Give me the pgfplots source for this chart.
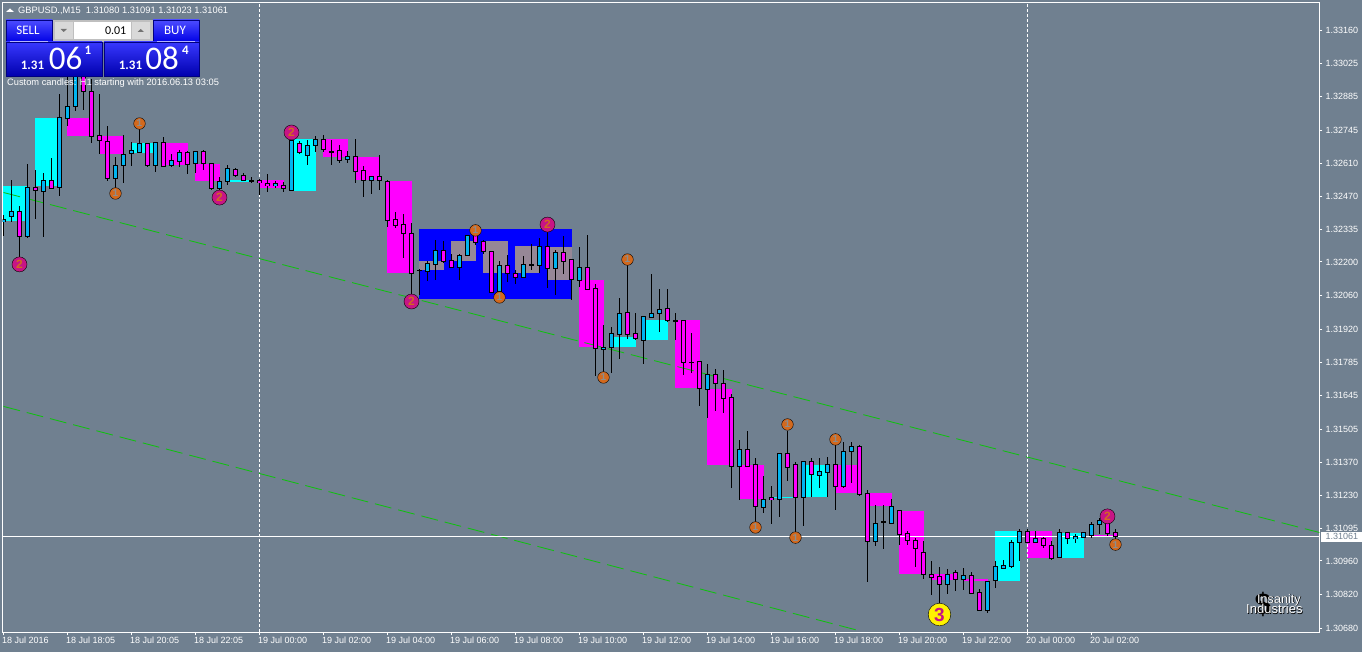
\documentclass[border=0pt]{standalone}
\usepackage{fontspec}
\setmainfont{Liberation Sans}
\newfontfamily\panelfont{Carlito}
\usepackage{pgfplots}
\usepackage{pgfplotstable}
\pgfplotsset{compat=1.18}
\definecolor{bg}{HTML}{708090}
\definecolor{bullc}{HTML}{00B4F0}
\definecolor{bearc}{HTML}{FF00FF}
\definecolor{blockc}{HTML}{00FFFF}
\definecolor{grayb}{HTML}{968796}
\definecolor{chan}{HTML}{10C010}
\definecolor{sigA}{HTML}{C71585}
\definecolor{sigB}{HTML}{D2691E}
\definecolor{digitg}{HTML}{8C8C8C}
% prices are in points (1e-5) above 1.30000
\pgfplotstableread{
i o h l c
0 2366 2393 2306 2376
1 2390 2538 2365 2411
3 2307 2607 2299 2510
5 2491 2568 2303 2539
7 2507 2898 2473 2798
8 2793 2965 2762 2846
9 2846 3010 2828 2994
14 2547 2637 2503 2599
15 2599 2727 2527 2644
16 2648 2699 2596 2661
17 2654 2759 2654 2690
19 2601 2697 2575 2694
21 2599 2648 2597 2619
22 2618 2665 2593 2655
24 2607 2662 2570 2657
27 2506 2551 2496 2532
28 2532 2604 2521 2586
31 2536 2554 2527 2538
34 2516 2534 2506 2524
36 2495 2731 2495 2704
38 2640 2704 2600 2681
39 2681 2724 2655 2706
41 2657 2704 2604 2659
43 2626 2662 2610 2637
46 2539 2556 2481 2556
52 2164 2169 2065 2166
53 2162 2202 2123 2192
54 2191 2292 2127 2246
57 2178 2234 2127 2225
58 2228 2308 2225 2308
62 2079 2202 2040 2184
65 2137 2223 2136 2188
66 2186 2275 2167 2188
67 2187 2300 2155 2265
69 2174 2250 2061 2238
72 2124 2264 2098 2176
75 1836 1937 1736 1847
76 1845 1932 1739 1902
77 1901 2050 1796 1985
80 1876 1972 1775 1972
81 1971 2148 1971 1985
82 1988 2089 1909 2002
84 1956 1990 1878 1958
86 1783 1907 1739 1785
88 1672 1775 1551 1735
92 1353 1462 1214 1421
95 1183 1314 1158 1216
97 1214 1408 1142 1404
100 1225 1374 1104 1374
102 1316 1388 1263 1330
103 1328 1393 1225 1359
105 1270 1454 1262 1413
106 1415 1454 1283 1433
109 1042 1194 1024 1114
110 1120 1194 1009 1122
111 1117 1215 1117 1185
118 861 927 821 905
120 885 929 838 898
123 753 876 744 876
124 878 958 847 936
125 930 962 925 940
126 937 1045 935 1036
127 1036 1094 960 1084
129 1038 1083 1036 1052
132 973 1094 973 1077
134 1052 1070 1034 1060
135 1059 1080 1056 1077
136 1065 1121 1055 1110
137 1110 1139 1070 1127
}\bulltable
\pgfplotstableread{
i o h l c
2 2408 2434 2220 2307
4 2510 2583 2379 2495
6 2539 2633 2503 2503
10 2994 3035 2832 2908
11 2908 2959 2692 2722
12 2723 2897 2646 2702
13 2698 2762 2535 2547
18 2690 2690 2593 2601
20 2694 2720 2597 2597
23 2655 2662 2563 2603
25 2657 2665 2582 2607
26 2607 2610 2500 2506
29 2582 2590 2554 2557
30 2560 2568 2534 2536
32 2536 2545 2476 2528
33 2524 2563 2489 2516
35 2518 2531 2489 2503
37 2692 2701 2648 2652
40 2706 2727 2655 2665
42 2662 2683 2611 2621
44 2637 2710 2527 2576
45 2578 2596 2469 2539
47 2553 2645 2500 2536
48 2534 2540 2344 2373
49 2375 2409 2339 2353
50 2354 2400 2216 2317
51 2317 2362 2047 2153
55 2246 2285 2195 2203
56 2205 2234 2176 2178
59 2308 2330 2272 2282
60 2283 2289 2231 2245
61 2242 2242 2072 2075
63 2184 2227 2116 2153
64 2153 2167 2107 2137
68 2263 2330 2091 2174
70 2238 2308 2151 2203
71 2209 2213 2044 2126
73 2176 2310 2082 2086
74 2089 2109 1725 1843
78 1989 2192 1881 1901
79 1902 1990 1877 1884
83 2006 2089 1950 1957
85 1956 1956 1730 1783
87 1786 1786 1601 1676
89 1735 1757 1584 1695
90 1695 1750 1573 1635
91 1636 1653 1262 1353
93 1421 1497 1353 1353
94 1359 1388 1086 1187
96 1222 1269 1114 1214
98 1404 1501 1291 1349
99 1359 1371 1059 1225
101 1374 1388 1227 1317
104 1359 1460 1172 1270
107 1433 1442 1229 1237
108 1238 1255 872 1042
112 1168 1168 1028 1071
113 1073 1086 1028 1046
114 1044 1056 934 1013
115 994 1042 885 905
116 905 958 818 893
117 894 933 782 861
119 911 921 835 885
121 898 916 821 827
122 828 845 753 753
128 1084 1094 1036 1038
130 1052 1059 1013 1023
131 1023 1041 965 972
133 1077 1080 1029 1052
138 1121 1170 1062 1074
139 1080 1091 1023 1061
}\beartable
% hourly custom candles: centre index, low, high
\pgfplotstableread{
x lo hi
1.5 2368 2513
5.5 2513 2799
17.5 2650 2695
29.5 2534 2538
37.5 2496 2708
77.5 1849 1887
81.5 1878 1961
97.5 1221 1227
101.5 1227 1360
125.5 879 1086
133.5 974 1078
}\cyanblocks
\pgfplotstableread{
x lo hi
9.5 2724 2795
13.5 2646 2724
21.5 2604 2695
25.5 2534 2608
33.5 2505 2538
41.5 2637 2708
45.5 2538 2637
49.5 2156 2534
73.5 1849 2127
85.5 1679 1961
89.5 1356 1675
93.5 1219 1356
105.5 1240 1360
109.5 1186 1240
113.5 908 1169
117.5 883 908
121.5 879 887
129.5 974 1086
137.5 1062 1066
}\magentablocks
\pgfplotstableread{
x lo hi
53.5 2165 2206
57.5 2206 2285
61.5 2156 2285
65.5 2156 2268
69.5 2127 2264
}\grayblocks
\pgfplotstableread{
x lo hi
61.5 2048 2335
}\blueblock
\newcommand{\blocks}[3]{%
  \addplot[draw=none,no marks,forget plot,error bars/.cd,y dir=both,y explicit,error mark=none,
    error bar style={#2,line width=#3pt}]
    table[x=x,y expr=(\thisrow{lo}+\thisrow{hi})/2,y error expr=(\thisrow{hi}-\thisrow{lo})/2]{#1};}
\newcommand{\candles}[2]{%
  \addplot[draw=none,no marks,forget plot,error bars/.cd,y dir=both,y explicit,error mark=none,
    error bar style={black,line width=1pt}]
    table[x=i,y=o,y error plus expr=\thisrow{h}-\thisrow{o},y error minus expr=\thisrow{o}-\thisrow{l}]{#1};
  \addplot[draw=none,no marks,forget plot,error bars/.cd,y dir=both,y explicit,error mark=none,
    error bar style={black,line width=5pt}]
    table[x=i,y expr=(\thisrow{o}+\thisrow{c})/2,y error expr=abs(\thisrow{c}-\thisrow{o})/2+2]{#1};
  \addplot[draw=none,no marks,forget plot,error bars/.cd,y dir=both,y explicit,error mark=none,
    error bar style={#2,line width=3pt}]
    table[x=i,y expr=(\thisrow{o}+\thisrow{c})/2,y error expr={max(abs(\thisrow{c}-\thisrow{o})/2-2,0)}]{#1};}
\begin{document}
\begin{tikzpicture}[x=1pt,y=1pt]
\fill[bg] (0,0) rectangle (1362,652);
\useasboundingbox (0,0) rectangle (1362,652);
\begin{axis}[
  at={(2.5pt,19.5pt)},anchor=south west,scale only axis,
  width=1317pt,height=630pt,
  xmin=-0.125,xmax=164.5,ymin=663.4,ymax=3276,
  axis line style={white,line width=1pt},
  tick style={white,line width=1pt},
  tick align=outside,major tick length=3pt,
  xtick pos=bottom,ytick pos=right,yticklabel pos=right,
  xtick={0,8,...,136},
  xticklabels={18 Jul 2016,18 Jul 18:05,18 Jul 20:05,18 Jul 22:05,19 Jul 00:00,19 Jul 02:00,19 Jul 04:00,19 Jul 06:00,19 Jul 08:00,19 Jul 10:00,19 Jul 12:00,19 Jul 14:00,19 Jul 16:00,19 Jul 18:00,19 Jul 20:00,19 Jul 22:00,20 Jul 00:00,20 Jul 02:00},
  xticklabel style={anchor=north west,inner sep=0pt,xshift=-1.5pt,yshift=-1.5pt,text=white,font=\fontsize{9}{10}\selectfont},
  ytick={3160,3025,2885,2745,2610,2470,2335,2200,2060,1920,1785,1645,1505,1370,1230,1095,960,820,680},
  yticklabels={1.33160,1.33025,1.32885,1.32745,1.32610,1.32470,1.32335,1.32200,1.32060,1.31920,1.31785,1.31645,1.31505,1.31370,1.31230,1.31095,1.30960,1.30820,1.30680},
  yticklabel style={anchor=west,inner sep=0pt,xshift=3pt,text=white,font=\fontsize{9}{10}\selectfont},
]
\blocks{\blueblock}{blue}{153}
\blocks{\cyanblocks}{blockc}{25}
\blocks{\magentablocks}{bearc}{25}
\blocks{\grayblocks}{grayb}{25}
% regression channel
\addplot[chan,line width=0.85pt,dash pattern=on 17pt off 7pt,forget plot] coordinates {(0,2488) (164.5,1078)};
\addplot[chan,line width=0.85pt,dash pattern=on 17pt off 7pt,forget plot] coordinates {(0,1601) (107.3,668)};
% day separators and current price
\addplot[white,line width=1pt,dash pattern=on 3pt off 2pt,forget plot] coordinates {(32,663.4) (32,3276)};
\addplot[white,line width=1pt,dash pattern=on 3pt off 2pt,forget plot] coordinates {(128,663.4) (128,3276)};
\addplot[white,line width=1pt,forget plot] coordinates {(-0.125,1061) (164.5,1061)};
% signal points
\addplot[only marks,mark=*,mark size=7.5pt,mark options={fill=sigA,draw=none},forget plot,
  nodes near coords={2},nodes near coords style={anchor=center,inner sep=0pt,text=sigB,font=\bfseries\fontsize{12}{13}\selectfont}]
  coordinates {(2,2190) (36,2737) (27,2467) (51,2036) (68,2355) (138,1145)};
\addplot[only marks,mark=*,mark size=5.8pt,mark options={fill=sigB,draw=none},forget plot,
  nodes near coords={1},nodes near coords style={anchor=center,inner sep=0pt,text=digitg,font=\bfseries\fontsize{10}{11}\selectfont}]
  coordinates {(17,2774) (14,2484) (59,2331) (62,2053) (75,1721) (78,2210) (94,1099) (98,1526) (99,1057) (104,1464) (139,1028)};
\addplot[only marks,mark=*,mark size=11.3pt,mark options={fill=yellow,draw=none},forget plot,
  nodes near coords={3},nodes near coords style={anchor=center,inner sep=0pt,text=sigA,font=\bfseries\fontsize{19}{20}\selectfont}]
  coordinates {(117,738)};
\candles{\bulltable}{bullc}
\candles{\beartable}{bearc}
\end{axis}
% trade panel and annotations, in image coordinates
\begin{scope}[shift={(0,652)},y=-1pt,x=1pt]
\fill[white] (6,12) -- (14,12) -- (10,8.5) -- cycle;
\node[anchor=west,inner sep=0pt,text=white,font=\fontsize{9.3}{10}\selectfont] at (18,10.5) {GBPUSD.,M15\ \ 1.31080 1.31091 1.31023 1.31061};
\node[anchor=west,inner sep=0pt,text=white,font=\fontsize{9.3}{10}\selectfont] at (7,83.5) {Custom candles: H1 starting with 2016.06.13 03:05};
% middle control
\fill[black!25] (53,20) rectangle (153,42);
\fill[white] (74,22) rectangle (131,39.5);
\fill[black!15] (55,22) rectangle (73,39.5);
\fill[black!15] (132,22) rectangle (150,39.5);
\fill[black!55] (60.5,29) -- (67,29) -- (63.7,32) -- cycle;
\fill[black!55] (137.5,32) -- (144,32) -- (140.7,29) -- cycle;
\node[anchor=east,inner sep=0pt,text=black,font=\panelfont\fontsize{12}{13}\selectfont] at (126.5,30.5) {0.01};
% blue buttons
\shade[top color=blue!70!white,bottom color=blue!90!black,draw=blue!50!black] (6,20) rectangle (52,42);
\shade[top color=blue!70!white,bottom color=blue!90!black,draw=blue!50!black] (153,20) rectangle (199,42);
\shade[top color=blue!78!white,bottom color=blue!68!black,draw=blue!50!black] (6,42) rectangle (102,76);
\shade[top color=blue!78!white,bottom color=blue!68!black,draw=blue!50!black] (104,42) rectangle (199,76);
\draw[blue!30!white,line width=0.7pt] (10,41.5) -- (48,41.5);
\draw[blue!30!white,line width=0.7pt] (157,41.5) -- (195,41.5);
\node[text=white,inner sep=0pt,font=\panelfont\fontsize{13}{14}\selectfont] at (28,30.5) {SELL};
\node[text=white,inner sep=0pt,font=\panelfont\fontsize{13}{14}\selectfont] at (175,30.5) {BUY};
\node[text=white,inner sep=0pt,font=\panelfont\bfseries\fontsize{13}{14}\selectfont] at (32.5,65) {1.31};
\node[text=white,inner sep=0pt,font=\panelfont\fontsize{33}{35}\selectfont] at (65.5,58) {06};
\node[text=white,inner sep=0pt,font=\panelfont\bfseries\fontsize{13}{14}\selectfont] at (88,50.5) {1};
\node[text=white,inner sep=0pt,font=\panelfont\bfseries\fontsize{13}{14}\selectfont] at (130.5,65) {1.31};
\node[text=white,inner sep=0pt,font=\panelfont\fontsize{33}{35}\selectfont] at (162,58) {08};
\node[text=white,inner sep=0pt,font=\panelfont\bfseries\fontsize{13}{14}\selectfont] at (185.5,50.5) {4};
% current price flag
\fill[white] (1321,532) rectangle (1362,541.7);
\node[anchor=west,inner sep=0pt,text=bg,font=\fontsize{9}{10}\selectfont] at (1325.5,536.8) {1.31061};
% logo
\node[text=black,inner sep=0pt,font=\bfseries\fontsize{30}{32}\selectfont] at (1263,604) {\char"24};
\foreach \dx/\dy/\c in {0.7/0.7/black,0/0/white}{
\node[anchor=west,inner sep=0pt,text=\c,font=\fontsize{12.6}{13}\selectfont] at (1257+\dx,600+\dy) {Insanity};
\node[anchor=west,inner sep=0pt,text=\c,font=\fontsize{13}{14}\selectfont] at (1246+\dx,609+\dy) {Industries};}
\end{scope}
\end{tikzpicture}
\end{document}
